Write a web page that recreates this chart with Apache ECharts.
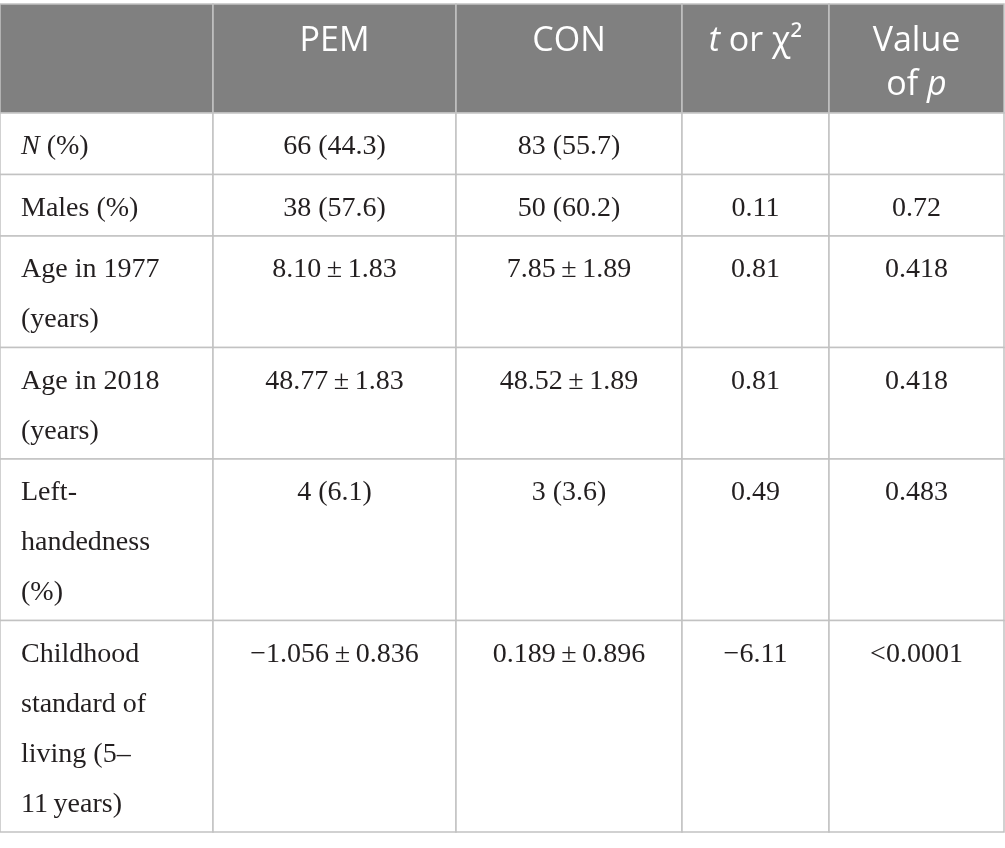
<!DOCTYPE html>
<html>
<head>
<meta charset="utf-8">
<script src="https://cdn.jsdelivr.net/npm/echarts@6/dist/echarts.min.js"></script>
<style>
  html, body { margin: 0; padding: 0; background: #fff; }
  #main { width: 1005px; height: 848px; }
</style>
</head>
<body>
<div id="main"></div>
<script>
// table content
const headers = ['', 'PEM', 'CON', '{i|t} or χ²', 'Value\nof {i|p}']
const rowLabels = [
  '{i|N} (%)',
  'Males (%)',
  'Age in 1977\n(years)',
  'Age in 2018\n(years)',
  'Left-\nhandedness\n(%)',
  'Childhood\nstandard of\nliving (5–\n11\u2009years)'
]
const pemValues = ['66 (44.3)', '38 (57.6)', '8.10\u2009±\u20091.83', '48.77\u2009±\u20091.83', '4 (6.1)', '\u22121.056\u2009±\u20090.836']
const conValues = ['83 (55.7)', '50 (60.2)', '7.85\u2009±\u20091.89', '48.52\u2009±\u20091.89', '3 (3.6)', '0.189\u2009±\u20090.896']
const testValues = ['', '0.11', '0.81', '0.81', '0.49', '\u22126.11']
const pValues = ['', '0.72', '0.418', '0.418', '0.483', '<0.0001']

const columns = [rowLabels, pemValues, conValues, testValues, pValues]

// layout
const W = 1005, H = 848
const colEdges = [0, 213, 456, 682, 829, 1004]
const tableTop = 4
const headerH = 109
const lineH = 50
const rowPad = 11.5

const rowEdges = [tableTop, tableTop + headerH]
rowLabels.forEach(l => {
  const n = l.split('\n').length
  rowEdges.push(rowEdges[rowEdges.length - 1] + rowPad + lineH * n)
})

const cells = []
for (let r = 0; r <= rowLabels.length; r++) {
  for (let c = 0; c < colEdges.length - 1; c++) cells.push([c, r])
}

const serif = 'Liberation Serif'
const sans = 'Open Sans'

const chart = echarts.init(document.getElementById('main'))

chart.setOption({
  animation: false,
  grid: { left: 0, right: 0, top: 0, bottom: 0 },
  xAxis: { type: 'value', min: 0, max: W, show: false },
  yAxis: { type: 'value', min: 0, max: H, inverse: true, show: false },
  series: [{
    type: 'custom',
    clip: false,
    data: cells,
    renderItem: (params, api) => {
      const c = api.value(0)
      const r = api.value(1)
      const p0 = api.coord([colEdges[c], rowEdges[r]])
      const p1 = api.coord([colEdges[c + 1], rowEdges[r + 1]])
      const isHead = r === 0
      const text = isHead ? headers[c] : columns[c][r - 1]
      const font = isHead ? sans : serif
      const size = isHead ? 34 : 28
      const lh = isHead ? 44 : lineH
      const color = isHead ? '#ffffff' : '#231f20'
      const tx = c === 0 ? p0[0] + 21 : (p0[0] + p1[0]) / 2
      const ty = isHead ? p0[1] + 15 : p0[1] + 9
      return {
        type: 'group',
        children: [
          {
            type: 'rect',
            shape: { x: p0[0], y: p0[1], width: p1[0] - p0[0], height: p1[1] - p0[1] },
            style: { fill: isHead ? '#808080' : '#ffffff', stroke: '#c2c2c2', lineWidth: 1.5 }
          },
          {
            type: 'text',
            style: {
              text: text,
              x: tx,
              y: ty,
              fill: color,
              fontFamily: font,
              fontSize: size,
              lineHeight: lh,
              align: c === 0 ? 'left' : 'center',
              verticalAlign: 'top',
              rich: {
                i: { fontFamily: font, fontSize: size, fontStyle: 'italic', fill: color, lineHeight: lh }
              }
            }
          }
        ]
      }
    }
  }]
})
</script>
</body>
</html>
